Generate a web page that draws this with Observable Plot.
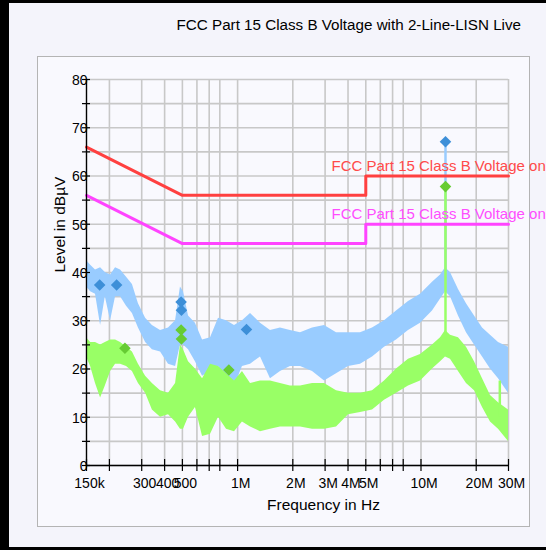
<!DOCTYPE html>
<html>
<head>
<meta charset="utf-8">
<script src="https://cdn.jsdelivr.net/npm/d3@7"></script>
<script src="https://cdn.jsdelivr.net/npm/@observablehq/plot@0.6"></script>
<style>
  html, body { margin: 0; padding: 0; background: #f4f4fb; }
  #wrap { position: relative; width: 546px; height: 550px; overflow: hidden; background: #f4f4fb; font-family: "Liberation Sans", Arial, sans-serif; }
  .blk { position: absolute; background: #000; }
  #panel { position: absolute; left: 37px; top: 56px; width: 491px; height: 469px; border: 1px solid #b4b4b4; background: #f9f9fe; }
  #title { position: absolute; right: 25px; top: 16px; font-size: 15.2px; color: #000; white-space: nowrap; }
  #chart { position: absolute; left: 0; top: 0; }
</style>
</head>
<body>
<div id="wrap">
  <div id="panel"></div>
  <div class="blk" style="left:0;top:0;width:546px;height:3px"></div>
  <div class="blk" style="left:0;top:0;width:9px;height:550px"></div>
  <div class="blk" style="left:0;top:547px;width:546px;height:3px"></div>
  <div id="title">FCC Part 15 Class B Voltage with 2-Line-LISN Live</div>
  <div id="chart"></div>
</div>
<script>
// Frequencies (MHz) at which the scan envelopes were read
const freqMHz = [0.150,0.158,0.168,0.179,0.190,0.203,0.216,0.230,0.248,0.267,0.288,0.315,0.343,0.380,0.420,0.459,0.488,0.507,0.540,0.589,0.644,0.712,0.787,0.870,0.962,1.063,1.176,1.333,1.511,1.713,1.942,2.203,2.562,2.978,3.462,4.025,4.679,5.439,6.324,7.352,8.547,9.937,11.55,12.78,13.60,14.48,16.01,17.70,19.58,21.65,23.93,26.46,30.0];
// Blue trace (peak) upper / lower envelope, dBµV
const blueHi = [42.5,41.5,40.5,41,40,39.5,41,40.5,39,37.5,33.5,30.5,29,28,28.5,30,37,36,31,29.5,26,26.5,30.5,30,29,30,31.5,29.5,28,28.5,28,27.5,28.5,29,27.5,27.5,27.5,28.5,30,32,34,35.5,38,39.5,41,40,36.5,33.5,31,28.5,27,25.5,24.5];
const blueLo = [37,36,35.5,29,35,30,35,35,33,31.5,28.5,25.5,24,23.5,21,20.5,25,25,24,21.5,18.5,19.5,20.5,17,16.5,20.5,21,22.5,18,19.5,20.5,20.5,19.5,17.5,19,20.5,21,22.5,24.5,26,28,29.5,32,34.5,36,35,31,27.5,25,22.5,20,18,15];
// Green trace (average) upper / lower envelope, dBµV
const greenHi = [26.5,25.5,25.5,25,25.5,26,26,25.5,24.5,23.5,21,18.5,17,15.5,15,17,25,24,21.5,20,18,21,20.5,19,17.5,19.5,17,17.5,17.5,17,16.5,16.5,17,17,15.5,15,15,15.5,17.5,20,22,23,25,26.5,28,27,26.5,24.5,21.5,18,14.5,13,11.5];
const greenLo = [22.5,20.5,17,14,16.5,19.5,21,21,20.5,19.5,17,15,11.5,10,10.5,9,7.5,7.5,10,12,6,6.5,10,7.5,7,9,8,7,7.5,8,8,8,7.5,7.5,8,10.5,11,11.5,13.5,15,16.5,17.5,20,21.5,22.5,22,19.5,17,15.5,12,9,7.5,5];

// Narrow spikes
const spikeFreq = [13.6, 13.6, 26.9];
const spikeLo = [40, 27, 10];
const spikeHi = [67.1, 57.8, 17.5];
const spikeSeries = ["blue", "green", "green"];

// Final measurement markers
const blueMarkFreq = [0.177, 0.219, 0.492, 0.494, 1.118, 13.6];
const blueMarkLevel = [37.4, 37.4, 33.9, 32.2, 28.2, 67.1];
const greenMarkFreq = [0.243, 0.492, 0.494, 0.896, 13.6];
const greenMarkLevel = [24.3, 28.1, 26.2, 19.8, 57.8];

// Limit lines
const limitFreq = [0.15, 0.5, 5, 5, 30];
const limitQP = [66, 56, 56, 60, 60];
const limitAV = [56, 46, 46, 50, 50];
const limitNames = ["FCC Part 15 Class B Voltage on", "FCC Part 15 Class B Voltage on"];
const limitLabelFreq = [3.25, 3.25];
const limitLabelLevel = [62, 52];

// Axes
const xTicks = [0.15,0.2,0.3,0.4,0.5,0.6,0.7,0.8,1,2,3,4,5,6,7,8,10,20,30];
const xLabelVals = [0.15,0.3,0.4,0.5,0.8,1,2,3,4,5,6,8,10,20,30];
const xLabelText = ["150k","300","400","500","800","1M","2M","3M","4M","5M","6","8","10M","20M","30M"];
const yGrid = [0,5,10,15,20,25,30,35,40,45,50,55,60,65,70,75,80];
const yLabelVals = [0,10,20,30,40,50,60,70,80];

const blueRows = freqMHz.map((f, i) => ({f, hi: blueHi[i], lo: blueLo[i]}));
const greenRows = freqMHz.map((f, i) => ({f, hi: greenHi[i], lo: greenLo[i]}));
const spikes = spikeFreq.map((f, i) => ({f, lo: spikeLo[i], hi: spikeHi[i], s: spikeSeries[i]}));
const limRows = limitFreq.map((f, i) => ({f, qp: limitQP[i], av: limitAV[i]}));
const blueMarks = blueMarkFreq.map((f, i) => ({f, v: blueMarkLevel[i]}));
const greenMarks = greenMarkFreq.map((f, i) => ({f, v: greenMarkLevel[i]}));
const limLabels = limitNames.map((t, i) => ({t, f: limitLabelFreq[i], v: limitLabelLevel[i], c: i === 0 ? "#ff4a4a" : "#ff4dff"}));
const labelMap = new Map(xLabelVals.map((v, i) => [v, xLabelText[i]]));

const BLUE = "#99ccff", GREEN = "#99ff66";

const chart = Plot.plot({
  width: 546,
  height: 550,
  marginLeft: 86,
  marginRight: 38,
  marginTop: 79,
  marginBottom: 85,
  style: { background: "transparent", fontFamily: "'Liberation Sans', Arial, sans-serif", fontSize: "14px", color: "#000" },
  x: { type: "log", domain: [0.15, 30], label: null },
  y: { domain: [0, 80], label: null },
  marks: [
    Plot.gridX({ ticks: xTicks, stroke: "#c8c8c8", strokeOpacity: 1, strokeWidth: 1.6 }),
    Plot.gridY({ ticks: yGrid, stroke: "#c8c8c8", strokeOpacity: 1, strokeWidth: 1.6 }),
    Plot.areaY(blueRows, { x: "f", y1: "lo", y2: "hi", fill: BLUE }),
    Plot.ruleX(spikes.filter(d => d.s === "blue"), { x: "f", y1: "lo", y2: "hi", stroke: BLUE, strokeWidth: 2.5 }),
    Plot.areaY(greenRows, { x: "f", y1: "lo", y2: "hi", fill: GREEN }),
    Plot.ruleX(spikes.filter(d => d.s === "green"), { x: "f", y1: "lo", y2: "hi", stroke: GREEN, strokeWidth: 2.5 }),
    Plot.line(limRows, { x: "f", y: "qp", stroke: "#ff4040", strokeWidth: 3 }),
    Plot.line(limRows, { x: "f", y: "av", stroke: "#ff44ff", strokeWidth: 3 }),
    Plot.text(limLabels, { x: "f", y: "v", text: "t", fill: "c", textAnchor: "start", fontSize: 15 }),
    Plot.dot(blueMarks, { x: "f", y: "v", symbol: "diamond2", r: 5.2, fill: "#3d8fd8", stroke: "none" }),
    Plot.dot(greenMarks, { x: "f", y: "v", symbol: "diamond2", r: 5.2, fill: "#66cc33", stroke: "none" }),
    Plot.ruleX([0.15], { stroke: "#000", strokeWidth: 1.3 }),
    Plot.ruleY([0], { stroke: "#000", strokeWidth: 1.3 }),
    Plot.axisX({ ticks: xTicks, tickSize: 12, dy: -6, text: null, label: null, stroke: "#000", strokeWidth: 1.2 }),
    Plot.axisX({ ticks: xLabelVals, tickSize: 0, tickPadding: 13, dx: 3, tickFormat: d => labelMap.get(d) ?? "", label: null, fontSize: 14 }),
    Plot.axisY({ ticks: yGrid, tickSize: 8, dx: 4, text: null, label: null, stroke: "#000", strokeWidth: 1.2 }),
    Plot.axisY({ ticks: yLabelVals, tickSize: 0, tickPadding: -1, dy: 1, label: null, fontSize: 14 }),
    Plot.text(["Frequency in Hz"], { frameAnchor: "bottom", dy: 44, dx: 26, fontSize: 15.5 }),
    Plot.text(["Level in dBµV"], { frameAnchor: "left", dx: -26, rotate: -90, fontSize: 15.5 })
  ]
});
document.getElementById("chart").appendChild(chart);
</script>
</body>
</html>
